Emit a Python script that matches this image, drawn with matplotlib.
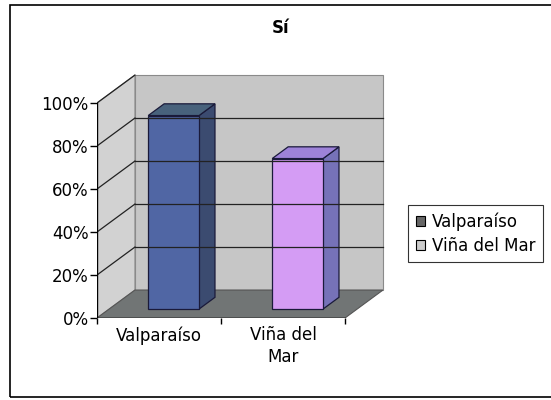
import matplotlib
matplotlib.use("Agg")
import matplotlib.pyplot as plt
from matplotlib.patches import Polygon, Patch, Rectangle

plt.rcParams['font.family'] = ['DejaVu Sans']

# datos
categorias = ['Valparaíso', 'Viña del\nMar']
nombres_serie = ['Valparaíso', 'Viña del Mar']
valores = [90, 70]
ticks_y = [0, 20, 40, 60, 80, 100]
etiquetas_y = ['0%', '20%', '40%', '60%', '80%', '100%']
titulo = 'Sí'

# colores (frente, lado, techo)
colores_barra = [('#5066a4', '#3b4b70', '#48627c'),
                 ('#d49cf4', '#7672b8', '#9d82d8')]
colores_leyenda = ['#666666', '#cccccc']

# profundidad del efecto 3d en unidades de datos
dx, dy = 0.306, 13.0
z0, z1 = 0.32, 0.74
ancho = 0.41
inicio = 0.315

fig = plt.figure(figsize=(5.51, 4.0), dpi=100)
fig.patches.append(Rectangle((10 / 551, 3 / 400), 560 / 551, 392 / 400,
                             transform=fig.transFigure, fill=False,
                             edgecolor='black', linewidth=1.2))

ax = fig.add_axes([97 / 551, 82 / 400, 2.35 * 124 / 551, 115 * 2.15 / 400])
ax.set_xlim(0, 2.35)
ax.set_ylim(0, 115)
ax.patch.set_visible(False)
for s in ax.spines.values():
    s.set_visible(False)

n = len(categorias)

# pared del fondo, pared lateral y piso
ax.add_patch(Polygon([(dx, dy), (n + dx, dy), (n + dx, 100 + dy), (dx, 100 + dy)],
                     closed=True, facecolor='#c6c6c6', edgecolor='#8a8a8a', lw=0.8))
ax.add_patch(Polygon([(0, 0), (dx, dy), (dx, 100 + dy), (0, 100)],
                     closed=True, facecolor='#d2d2d2', edgecolor='#8a8a8a', lw=0.8))
ax.add_patch(Polygon([(0, 0), (n, 0), (n + dx, dy), (dx, dy)],
                     closed=True, facecolor='#717575', edgecolor='#555555', lw=0.8))

for v in ticks_y[1:]:
    ax.plot([0, dx], [v, v + dy], color='#222222', lw=0.9)
    if v < 100:
        ax.plot([dx, n + dx], [v + dy, v + dy], color='#222222', lw=0.9)

# barras
for i, v in enumerate(valores):
    frente, lado, techo = colores_barra[i]
    x0 = i + inicio
    ox0, oy0 = z0 * dx, z0 * dy
    ox1, oy1 = z1 * dx, z1 * dy
    ax.add_patch(Polygon([(x0 + ancho + ox0, oy0), (x0 + ancho + ox1, oy1),
                          (x0 + ancho + ox1, v + oy1), (x0 + ancho + ox0, v + oy0)],
                         closed=True, facecolor=lado, edgecolor='#1a1a3a', lw=0.9))
    ax.add_patch(Polygon([(x0 + ox0, v + oy0), (x0 + ancho + ox0, v + oy0),
                          (x0 + ancho + ox1, v + oy1), (x0 + ox1, v + oy1)],
                         closed=True, facecolor=techo, edgecolor='#1a1a3a', lw=0.9))
    ax.add_patch(Polygon([(x0 + ox0, oy0), (x0 + ancho + ox0, oy0),
                          (x0 + ancho + ox0, v + oy0), (x0 + ox0, v + oy0)],
                         closed=True, facecolor=frente, edgecolor='#1a1a3a', lw=0.9))

# ejes
ax.plot([0, 0], [0, 100], color='black', lw=1.0)
ax.plot([0, n], [0, 0], color='black', lw=1.0)

ax.set_yticks(ticks_y)
ax.set_yticklabels(etiquetas_y, fontsize=12)
ax.tick_params(axis='y', length=5, width=1, pad=1, direction='out')
ax.set_xticks(range(n + 1))
ax.set_xticklabels([''] * (n + 1))
ax.tick_params(axis='x', which='major', length=4, width=1, direction='out')
ax.set_xticks([i + 0.5 for i in range(n)], minor=True)
ax.set_xticklabels(categorias, minor=True, fontsize=12, linespacing=1.25)
ax.tick_params(axis='x', which='minor', length=0, pad=6)

fig.text(281 / 551, 1 - 28 / 400, titulo, fontsize=12, fontweight='bold',
         ha='center', va='center')

handles = [Patch(facecolor=c, edgecolor='black', lw=0.8) for c in colores_leyenda]
leg = fig.legend(handles, nombres_serie, loc='upper left',
                 bbox_to_anchor=(408 / 551, 1 - 205 / 400), fontsize=12,
                 frameon=True, fancybox=False, edgecolor='black',
                 handlelength=0.55, handleheight=0.55, handletextpad=0.45,
                 borderpad=0.45, labelspacing=0.35, borderaxespad=0)
leg.get_frame().set_linewidth(0.8)

fig.savefig('out.png', dpi=100)
